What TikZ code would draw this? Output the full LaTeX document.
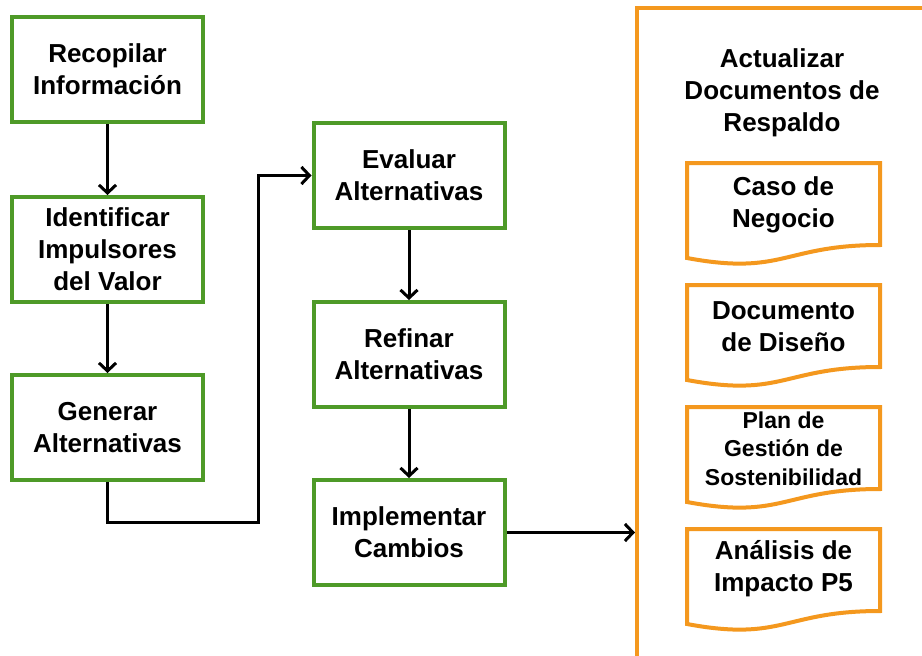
\documentclass[tikz,border=0pt]{standalone}
\usepackage{fontspec}
\setmainfont{Liberation Sans}
\usetikzlibrary{arrows.meta}
\definecolor{stepgreen}{RGB}{78,154,40}
\definecolor{docorange}{RGB}{244,152,30}

\tikzset{
  stepbox/.style={draw=stepgreen, line width=4pt, fill=white,
    minimum width=191pt, minimum height=105pt, inner sep=0pt,
    align=center, font=\bfseries\fontsize{26}{32}\selectfont},
  doctext/.style={align=center, inner sep=0pt,
    font=\bfseries\fontsize{26}{32}\selectfont},
  smalldoctext/.style={doctext, font=\bfseries\fontsize{23}{28.5}\selectfont},
  flow/.style={draw=black, line width=3pt,
    -{Straight Barb[length=8pt,width=17pt,line width=3pt]}},
  % flowchart document shape, anchored at the middle of its top edge
  docshape/.pic={
    \draw[draw=docorange, line width=4pt, fill=white, line join=miter]
      (-96.5,0) -- (96.5,0) -- (96.5,82)
      .. controls (0,82) and (0,113) .. (-96.5,95) -- cycle;
  },
}

\begin{document}
\begin{tikzpicture}[x=1pt, y=-1pt]
\useasboundingbox (0,0) rectangle (922,656);
\fill[white] (0,0) rectangle (922,656);

% process steps
\node[stepbox] (rec) at (107.5,69.5)  {Recopilar\\Información};
\node[stepbox] (ide) at (107.5,249.5) {Identificar\\Impulsores\\del Valor};
\node[stepbox] (gen) at (107.5,427.5) {Generar\\Alternativas};
\node[stepbox] (eva) at (409,175.5)   {Evaluar\\Alternativas};
\node[stepbox] (ref) at (409,354.5)   {Refinar\\Alternativas};
\node[stepbox] (imp) at (409,532.5)   {Implementar\\Cambios};

% supporting documents container (runs past the page edge)
\node[draw=docorange, line width=4pt, minimum width=330pt, minimum height=700pt,
      inner sep=0pt] (upd) at (802,358) {};
\node[doctext] (updtitle) at (782,93) {Actualizar\\Documentos de\\Respaldo};

\pic at (783.5,163) {docshape};
\node[doctext] (caso) at (783.5,205) {Caso de\\Negocio};
\pic at (783.5,285) {docshape};
\node[doctext] (dise) at (783.5,327) {Documento\\de Diseño};
\pic at (783.5,407) {docshape};
\node[smalldoctext] (sost) at (783.5,448.5) {Plan de\\Gestión de\\Sostenibilidad};
\pic at (783.5,529) {docshape};
\node[doctext] (p5) at (783.5,569) {Análisis de\\Impacto P5};

% connectors
\coordinate (jog) at (258,522);
\draw[flow] (rec) -- (ide);
\draw[flow] (ide) -- (gen);
\draw[flow] (gen.south) |- (jog) |- (eva.west);
\draw[flow] (eva) -- (ref);
\draw[flow] (ref) -- (imp);
\draw[flow] (imp.east) -- (imp.east -| upd.west);
\end{tikzpicture}
\end{document}
